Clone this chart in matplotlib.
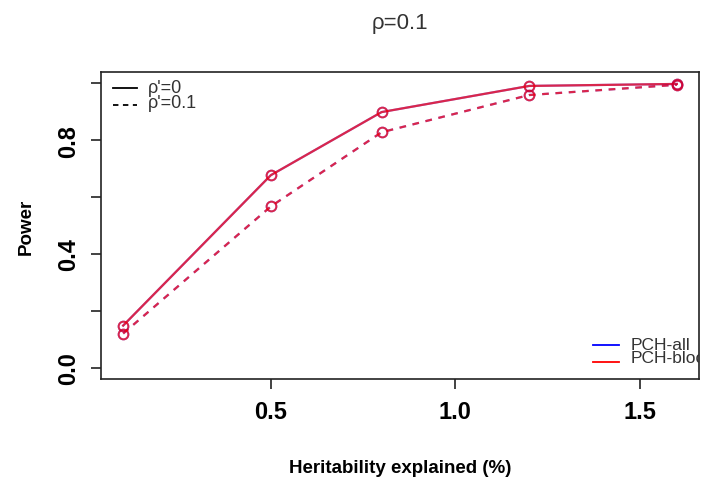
import numpy as np
import matplotlib
matplotlib.use('Agg')
import matplotlib.pyplot as plt
from matplotlib.lines import Line2D

plt.rcParams['font.family'] = ['Liberation Sans', 'DejaVu Sans']

# heritability explained (%)
herit = [0.1, 0.5, 0.8, 1.2, 1.6]

# power, rho' = 0 (solid) and rho' = 0.1 (dashed); PCH-all and PCH-block overlap
pch_all_r0 = [0.148, 0.677, 0.899, 0.991, 0.998]
pch_block_r0 = [0.148, 0.677, 0.899, 0.991, 0.998]
pch_all_r01 = [0.120, 0.567, 0.828, 0.959, 0.995]
pch_block_r01 = [0.120, 0.567, 0.828, 0.959, 0.995]

xticks = [0.5, 1.0, 1.5]
yticks = [0.0, 0.2, 0.4, 0.6, 0.8, 1.0]
ytick_labels = ['0.0', '', '0.4', '', '0.8', '']

fig = plt.figure(figsize=(7.05, 4.89), dpi=100)
ax = fig.add_axes([0.1433, 0.2229, 0.8482, 0.6278])

blue = '#0000ff'
red = '#ff0000'
for ys, col, a in [(pch_all_r0, blue, 0.5), (pch_block_r0, red, 0.7)]:
    ax.plot(herit, ys, color=col, alpha=a, linewidth=1.6, marker='o', markersize=7,
            markerfacecolor='none', markeredgewidth=1.4)
for ys, col, a in [(pch_all_r01, blue, 0.5), (pch_block_r01, red, 0.7)]:
    ax.plot(herit, ys, color=col, alpha=a, linewidth=1.6, linestyle=(0, (3, 3)), marker='o',
            markersize=7, markerfacecolor='none', markeredgewidth=1.4)

ax.set_xlim(0.04, 1.66)
ax.set_ylim(-0.04, 1.04)
ax.set_xticks(xticks)
ax.set_xticklabels(['0.5', '1.0', '1.5'])
ax.set_yticks(yticks)
ax.set_yticklabels(ytick_labels, rotation=90, va='center')
ax.tick_params(axis='both', labelsize=17, length=7, width=1.2, color='#222222', pad=8)
for lab in ax.get_xticklabels() + ax.get_yticklabels():
    lab.set_fontweight('bold')
for s in ax.spines.values():
    s.set_linewidth(1.2)
    s.set_color('#222222')

ax.set_xlabel('Heritability explained (%)', fontsize=13.5, fontweight='bold', labelpad=26)
ax.set_ylabel('Power', fontsize=13.5, fontweight='bold', labelpad=16)
ax.set_title(u'\u03c1=0.1', fontsize=16, color='#333333', pad=32)

# line-type legend (top left)
tr = ax.transAxes
ax.add_line(Line2D([0.02, 0.06], [0.948, 0.948], transform=tr, color='black', linewidth=1.3))
ax.add_line(Line2D([0.02, 0.06], [0.892, 0.892], transform=tr, color='black', linewidth=1.3,
                   linestyle=(0, (3, 2.5))))
ax.text(0.078, 0.950, u"\u03c1'=0", transform=tr, fontsize=13, color='#333333', va='center')
ax.text(0.078, 0.902, u"\u03c1'=0.1", transform=tr, fontsize=13, color='#333333', va='center')

# method legend (bottom right, clipped at the box)
ax.add_line(Line2D([0.823, 0.866], [0.110, 0.110], transform=tr, color=blue, linewidth=1.3))
ax.add_line(Line2D([0.823, 0.866], [0.055, 0.055], transform=tr, color=red, linewidth=1.3))
ax.text(0.885, 0.114, 'PCH-all', transform=tr, fontsize=12.5, color='#333333', va='center', clip_on=True)
ax.text(0.885, 0.070, 'PCH-block', transform=tr, fontsize=12.5, color='#333333', va='center', clip_on=True)

fig.savefig('out.png', dpi=100)
